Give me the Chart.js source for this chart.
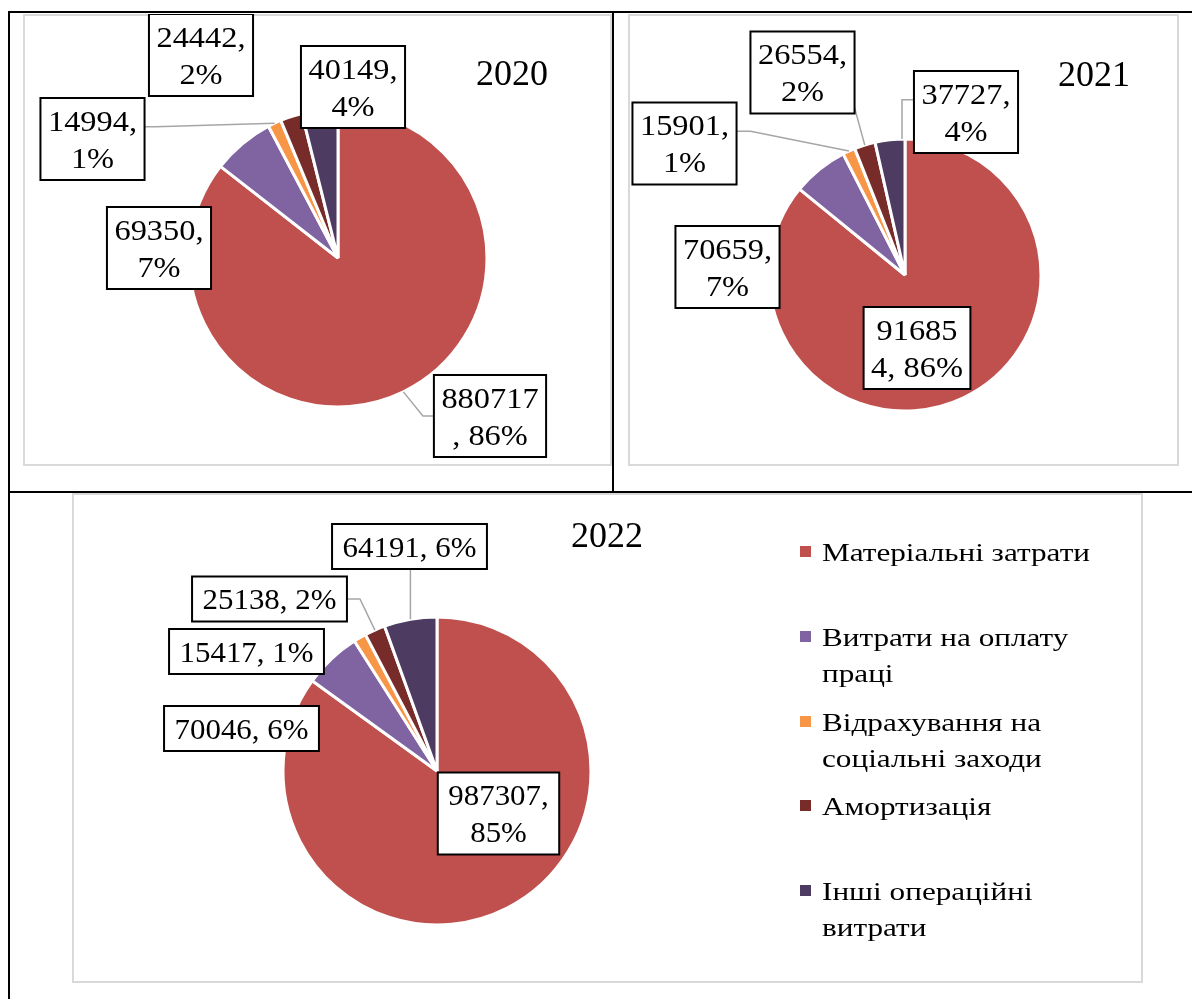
<!DOCTYPE html>
<html lang="uk">
<head>
<meta charset="utf-8">
<title>Структура операційних витрат 2020–2022</title>
<script src="https://cdn.jsdelivr.net/npm/chart.js@4.4.1/dist/chart.umd.min.js"></script>
<style>
  html, body { margin: 0; padding: 0; background: #fff; }
  body {
    width: 1192px; height: 999px; position: relative; overflow: hidden;
    font-family: 'Liberation Serif', 'Times New Roman', serif; color: #000;
  }
  .rule  { position: absolute; background: #000; }
  .frame { position: absolute; box-sizing: border-box; border: 2px solid #d9d9d9; }
  canvas { position: absolute; }
  .year  {
    position: absolute; width: 140px; margin-left: -70px; margin-top: -18px;
    font-size: 36px; line-height: 36px; text-align: center;
  }
  .lg-mark { position: absolute; width: 11px; height: 11px; }
  .lg-text {
    position: absolute; font-size: 26px; line-height: 36px;
    transform-origin: 0 0; white-space: normal;
  }
</style>
</head>
<body>

<!-- рамки таблиці -->
<div class="rule" style="left:8px; top:11px; width:1184px; height:2px"></div>
<div class="rule" style="left:8px; top:11px; width:2px; height:988px"></div>
<div class="rule" style="left:612px; top:11px; width:2px; height:481px"></div>
<div class="rule" style="left:8px; top:491px; width:1184px; height:2px"></div>

<!-- рамки діаграм -->
<div class="frame" style="left:23px; top:14px; width:589px; height:452px"></div>
<div class="frame" style="left:628px; top:14px; width:551px; height:452px"></div>
<div class="frame" style="left:72px; top:493px; width:1071px; height:490px"></div>

<canvas id="pie2020" width="589" height="452" style="left:23px; top:14px"></canvas>
<canvas id="pie2021" width="551" height="452" style="left:628px; top:14px"></canvas>
<canvas id="pie2022" width="1071" height="490" style="left:72px; top:493px"></canvas>

<div class="year" id="title2020" style="left:512px; top:73px"></div>
<div class="year" id="title2021" style="left:1094px; top:74px"></div>
<div class="year" id="title2022" style="left:607px; top:535px"></div>

<div id="legend"></div>

<script>
/* ─── Дані ───────────────────────────────────────── */
const categories = [
  'Матеріальні затрати',
  'Витрати на оплату праці',
  'Відрахування на соціальні заходи',
  'Амортизація',
  'Інші операційні витрати',
];
const years = ['2020', '2021', '2022'];
const values2020 = [880717, 69350, 14994, 24442, 40149];
const values2021 = [916854, 70659, 15901, 26554, 37727];
const values2022 = [987307, 70046, 15417, 25138, 64191];

/* ─── Кольори ────────────────────────────────────── */
const COLORS = ['#C0504D', '#8064A2', '#F79646', '#772C2A', '#4D3B62'];
const LEADER = '#a6a6a6';
const FONT = "'Liberation Serif', 'Times New Roman', serif";

/* ─── Перенос тексту підпису (як у Excel) ────────── */
function wrapLabel(ctx, text, maxW, sx) {
  const w = s => ctx.measureText(s).width * sx;
  const lines = [];
  let cur = '';
  text.split(' ').forEach(word => {
    const cand = cur ? cur + ' ' + word : word;
    if (w(cand) <= maxW) { cur = cand; return; }
    if (cur) { lines.push(cur); cur = ''; }
    for (const ch of word) {
      if (w(cur + ch) <= maxW) cur += ch;
      else { lines.push(cur); cur = ch; }
    }
  });
  if (cur) lines.push(cur);
  return lines;
}

/* ─── Плагін: підписи в рамках з лініями-виносками ─ */
const boxLabels = {
  id: 'boxLabels',
  afterDatasetsDraw(chart, args, opts) {
    const ctx = chart.ctx;
    const meta = chart.getDatasetMeta(0);
    const data = chart.data.datasets[0].data;
    const total = data.reduce((a, b) => a + b, 0);
    const sx = opts.stretch;
    ctx.save();
    ctx.font = `${opts.size}px ${FONT}`;

    meta.data.forEach((arc, i) => {
      const spec = opts.items[i];
      const text = `${data[i]}, ${Math.round(data[i] / total * 100)}%`;
      const lines = wrapLabel(ctx, text, opts.maxWidth, sx);
      const tw = Math.max(...lines.map(l => ctx.measureText(l).width)) * sx;
      const bw = tw + 2 * opts.padX;
      const bh = lines.length * opts.lineHeight + 2 * opts.padY;
      const cx = arc.x + spec.dx, cy = arc.y + spec.dy;
      const x0 = cx - bw / 2, y0 = cy - bh / 2;

      // лінія-виноска
      if (spec.leader) {
        const L = spec.leader;
        const a = arc.startAngle + (arc.endAngle - arc.startAngle) * (L.t ?? 0.5);
        const px = arc.x + Math.cos(a) * arc.outerRadius;
        const py = arc.y + Math.sin(a) * arc.outerRadius;
        let pts;
        if (L.side === 'bottom') {
          pts = [[px, y0 + bh], [px, py]];
        } else {
          const ax = L.side === 'left' ? x0 : x0 + bw;
          const ay = y0 + bh * (L.f ?? 0.5);
          const ex = L.elbow === 'hv' ? px : ax + (L.side === 'left' ? -1 : 1) * L.elbow;
          pts = [[ax, ay], [ex, ay], [px, py]];
        }
        ctx.beginPath();
        pts.forEach(([x, y], k) => k ? ctx.lineTo(x, y) : ctx.moveTo(x, y));
        ctx.strokeStyle = LEADER;
        ctx.lineWidth = 1.5;
        ctx.stroke();
      }

      // рамка
      ctx.fillStyle = '#fff';
      ctx.fillRect(x0, y0, bw, bh);
      ctx.strokeStyle = '#000';
      ctx.lineWidth = 2;
      ctx.strokeRect(x0, y0, bw, bh);

      // текст
      ctx.fillStyle = '#000';
      ctx.textAlign = 'center';
      ctx.textBaseline = 'alphabetic';
      lines.forEach((l, k) => {
        const by = y0 + opts.padY + k * opts.lineHeight + opts.lineHeight / 2 + opts.size * 0.34;
        ctx.save();
        ctx.translate(cx, by);
        ctx.scale(sx, 1);
        ctx.fillText(l, 0, 0);
        ctx.restore();
      });
    });
    ctx.restore();
  },
};

/* ─── Побудова однієї кругової діаграми ──────────── */
function makePie(id, values, layout, labelOpts) {
  const canvas = document.getElementById(id);
  const left = parseFloat(canvas.style.left), top = parseFloat(canvas.style.top);
  const cx = layout.cx - left, cy = layout.cy - top;
  const R = layout.r + 2;
  return new Chart(canvas, {
    type: 'pie',
    data: {
      labels: categories,
      datasets: [{
        data: values,
        backgroundColor: COLORS,
        borderColor: '#fff',
        borderWidth: 3,
      }],
    },
    options: {
      responsive: false,
      animation: false,
      radius: layout.r,
      layout: {
        padding: {
          left: cx - R,
          right: canvas.width - cx - R,
          top: cy - R,
          bottom: canvas.height - cy - R,
        },
      },
      plugins: {
        legend: { display: false },
        tooltip: { enabled: false },
        boxLabels: labelOpts,
      },
    },
    plugins: [boxLabels],
  });
}

const baseLabel = { size: 30, lineHeight: 37, padY: 4 };

/* ГРАФІКА 1 · 2020 */
makePie('pie2020', values2020, { cx: 338, cy: 258, r: 149 }, {
  ...baseLabel, stretch: 1.08, padX: 7.5, maxWidth: 100,
  items: [
    { dx: 152, dy: 158, leader: { side: 'left', elbow: 11 } },
    { dx: -179, dy: -10 },
    { dx: -245.5, dy: -119, leader: { side: 'right', f: 0.35, elbow: 11 } },
    { dx: -137, dy: -203 },
    { dx: 15, dy: -171 },
  ],
});

/* ГРАФІКА 2 · 2021 */
makePie('pie2021', values2021, { cx: 905, cy: 275, r: 136 }, {
  ...baseLabel, stretch: 1.08, padX: 7.5, maxWidth: 93,
  items: [
    { dx: 12, dy: 73 },
    { dx: -177.5, dy: -8 },
    { dx: -220.5, dy: -131.5, leader: { side: 'right', f: 0.35, elbow: 14 } },
    { dx: -102.5, dy: -202.5, leader: { side: 'right', f: 0.93, elbow: 0 } },
    { dx: 61, dy: -163, leader: { side: 'left', f: 0.35, elbow: 'hv', t: 0.9 } },
  ],
});

/* ГРАФІКА 3 · 2022 */
makePie('pie2022', values2022, { cx: 437, cy: 771, r: 154 }, {
  ...baseLabel, stretch: 1.03, padX: 10.5, maxWidth: 145,
  items: [
    { dx: 61.5, dy: 42.5 },
    { dx: -195.5, dy: -42.5 },
    { dx: -190.5, dy: -119.5 },
    { dx: -167.5, dy: -172, leader: { side: 'right', elbow: 13 } },
    { dx: -27.5, dy: -224.5, leader: { side: 'bottom' } },
  ],
});

/* ─── Заголовки ──────────────────────────────────── */
years.forEach(y => { document.getElementById('title' + y).textContent = y; });

/* ─── Легенда (праворуч від 2022) ────────────────── */
const legend = document.getElementById('legend');
const LG = { x: 800, textX: 822, top: 535, step: 84.75, stretch: 1.2, width: 290 };
categories.forEach((name, i) => {
  const top = LG.top + i * LG.step;
  const mark = document.createElement('div');
  mark.className = 'lg-mark';
  mark.style.left = LG.x + 'px';
  mark.style.top = (top + 11) + 'px';
  mark.style.background = COLORS[i];
  legend.appendChild(mark);

  const txt = document.createElement('div');
  txt.className = 'lg-text';
  txt.style.left = LG.textX + 'px';
  txt.style.top = top + 'px';
  txt.style.width = (LG.width / LG.stretch) + 'px';
  txt.style.transform = `scaleX(${LG.stretch})`;
  txt.textContent = name;
  legend.appendChild(txt);
});
</script>
</body>
</html>
